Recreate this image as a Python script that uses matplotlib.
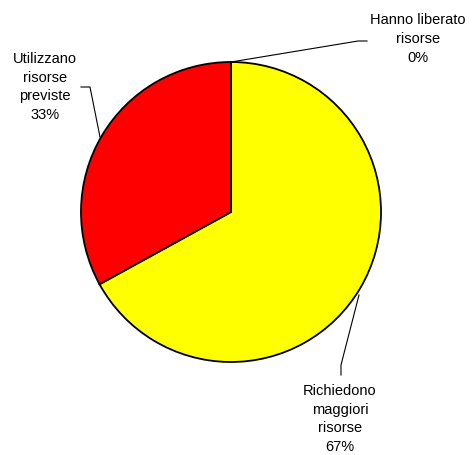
import matplotlib
matplotlib.use('Agg')
import matplotlib.pyplot as plt

# dati
labels = ['Hanno liberato\nrisorse\n0%', 'Richiedono\nmaggiori\nrisorse\n67%', 'Utilizzano\nrisorse\npreviste\n33%']
values = [0, 67, 33]
colors = ['#00FF00', '#FFFF00', '#FF0000']

W, H = 473, 455
fig = plt.figure(figsize=(W / 100, H / 100), dpi=100)
ax = fig.add_axes([0, 0, 1, 1])
ax.set_xlim(0, W)
ax.set_ylim(0, H)
ax.set_aspect('equal')
ax.axis('off')

cx, cy, r = 231, H - 212, 150
ax.pie(values, colors=colors, startangle=90, counterclock=False,
       center=(cx, cy), radius=r, frame=True,
       wedgeprops=dict(edgecolor='black', linewidth=1.3))
ax.set_xlim(0, W)
ax.set_ylim(0, H)
ax.axis('off')

font = dict(family='Liberation Sans', fontsize=10.5, ha='center', va='center', linespacing=1.45)

# etichette e linee guida (coordinate in pixel, y dall'alto)
def px(x, y):
    return x, H - y

leaders = [
    [(231, 62), (358, 41), (367, 41)],
    [(359, 295), (341, 365), (341, 375)],
    [(100, 137), (90, 87), (81, 87)],
]
text_pos = [(418, 39), (340, 419), (45, 87)]

for lab, pts, tp in zip(labels, leaders, text_pos):
    xs = [p[0] for p in pts]
    ys = [H - p[1] for p in pts]
    ax.plot(xs, ys, color='black', linewidth=0.8)
    ax.text(*px(*tp), lab, **font)

fig.savefig('out.png', dpi=100)
